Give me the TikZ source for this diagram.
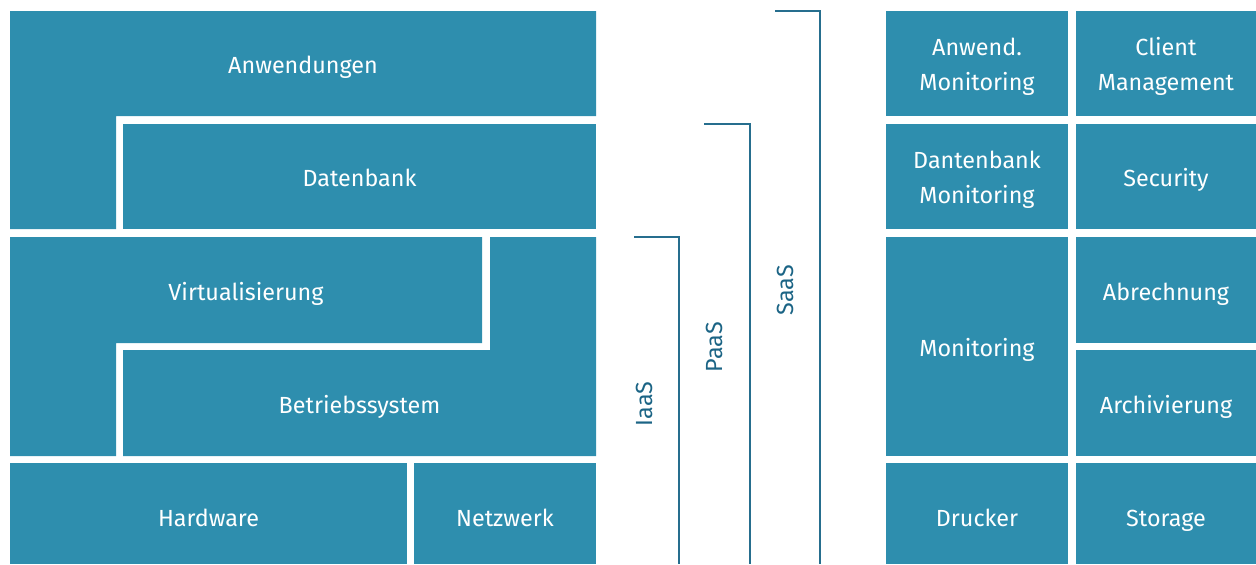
\documentclass[tikz,border=0pt]{standalone}
\usepackage{fontspec}
\setmainfont{Fira Sans}
\definecolor{tile}{RGB}{46,142,174}
\definecolor{rule}{RGB}{38,110,142}
\definecolor{ruletext}{RGB}{27,100,133}
\tikzset{
  tilefill/.style={fill=tile},
  tilelabel/.style={text=white,align=center,yshift=-2.2pt,font=\fontsize{17.5}{26}\selectfont},
  oneline/.style={tilelabel,yshift=-2.2pt,text height=0.7em,text depth=0.2em},
  bracket/.style={draw=rule,line width=1.1pt},
  bracketlabel/.style={text=ruletext,rotate=90,font=\fontsize{17.5}{26}\selectfont}
}
\begin{document}
\begin{tikzpicture}[x=0.75pt,y=-0.75pt]
\useasboundingbox (0,0) rectangle (1256,564);
% stack on the left
\fill[tilefill] (10,11) -- (596,11) -- (596,116) -- (116,116) -- (116,229) -- (10,229) -- cycle;
\node[oneline] (anw) at (303,64) {Anwendungen};
\fill[tilefill] (123,124) rectangle (596,229);
\node[oneline] (db) at (359.5,177) {Datenbank};
\fill[tilefill] (10,237) -- (482,237) -- (482,343) -- (116,343) -- (116,456) -- (10,456) -- cycle;
\node[oneline] (virt) at (246,291) {Virtualisierung};
\fill[tilefill] (490,237) -- (596,237) -- (596,456) -- (123,456) -- (123,350) -- (490,350) -- cycle;
\node[oneline] (os) at (359.5,404) {Betriebssystem};
\fill[tilefill] (10,463) rectangle (407,564);
\node[oneline] (hw) at (208.5,517) {Hardware};
\fill[tilefill] (414,463) rectangle (596,564);
\node[oneline] (net) at (505,517) {Netzwerk};
% the three service levels
\coordinate (iaastop) at (634,237);
\coordinate (iaasend) at (679,564);
\coordinate (paastop) at (704,124);
\coordinate (paasend) at (750,564);
\coordinate (saastop) at (775,11);
\coordinate (saasend) at (820,564);
\draw[bracket] (iaastop) -| (iaasend);
\draw[bracket] (paastop) -| (paasend);
\draw[bracket] (saastop) -| (saasend);
\node[bracketlabel] (iaas) at (644,404) {IaaS};
\node[bracketlabel] (paas) at (714,347) {PaaS};
\node[bracketlabel] (saas) at (785,290) {SaaS};
% services on the right, two-line ones
\foreach \xa/\ya/\xb/\yb/\nm/\txt in {
  886/11/1068/116/amon/{Anwend.\\Monitoring},
  1076/11/1256/116/client/{Client\\Management},
  886/124/1068/229/dbmon/{Dantenbank\\Monitoring}}
{
\fill[tilefill] (\xa,\ya) rectangle (\xb,\yb);
\node[tilelabel] (\nm) at ({(\xa+\xb)/2},{(\ya+\yb)/2}) {\txt};
}
% services on the right, one-line ones
\foreach \xa/\ya/\xb/\yb/\ty/\nm/\txt in {
  1076/124/1256/229/177/sec/{Security},
  886/237/1068/456/347/mon/{Monitoring},
  1076/237/1256/343/291/abr/{Abrechnung},
  1076/350/1256/456/404/arch/{Archivierung},
  886/463/1068/564/517/druck/{Drucker},
  1076/463/1256/564/517/stor/{Storage}}
{
\fill[tilefill] (\xa,\ya) rectangle (\xb,\yb);
\node[oneline] (\nm) at ({(\xa+\xb)/2},\ty) {\txt};
}
\end{tikzpicture}
\end{document}
